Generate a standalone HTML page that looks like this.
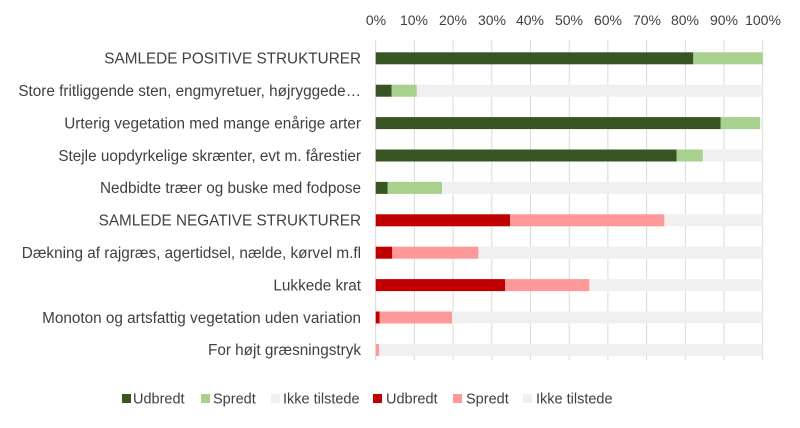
<!DOCTYPE html>
<html><head><meta charset="utf-8"><style>
html,body{margin:0;padding:0;background:#fff;}
svg text{font-family:"Liberation Sans",sans-serif;fill:#404040;}
</style></head><body>
<svg width="800" height="423" xmlns="http://www.w3.org/2000/svg">
<g stroke="#d9d9d9" stroke-width="1">
<line x1="375.7" y1="40" x2="375.7" y2="360"/><line x1="414.4" y1="40" x2="414.4" y2="360"/>
<line x1="453.1" y1="40" x2="453.1" y2="360"/><line x1="491.8" y1="40" x2="491.8" y2="360"/>
<line x1="530.5" y1="40" x2="530.5" y2="360"/><line x1="569.2" y1="40" x2="569.2" y2="360"/>
<line x1="607.9" y1="40" x2="607.9" y2="360"/><line x1="646.6" y1="40" x2="646.6" y2="360"/>
<line x1="685.3" y1="40" x2="685.3" y2="360"/><line x1="724" y1="40" x2="724" y2="360"/>
<line x1="762.7" y1="40" x2="762.7" y2="360"/>
</g>
<g font-size="14" text-anchor="middle">
<text x="376" y="25">0%</text><text x="414" y="25">10%</text><text x="453" y="25">20%</text>
<text x="492" y="25">30%</text><text x="530" y="25">40%</text><text x="569" y="25">50%</text>
<text x="608" y="25">60%</text><text x="647" y="25">70%</text><text x="685" y="25">80%</text>
<text x="724" y="25">90%</text><text x="763" y="25">100%</text>
</g>
<g>
<rect x="375.7" y="52.3" width="317.6" height="12" fill="#375623"/><rect x="693.3" y="52.3" width="69.4" height="12" fill="#a9d18e"/>
<rect x="375.7" y="84.7" width="387" height="12" fill="#f0f0f0"/>
<rect x="375.7" y="84.7" width="16" height="12" fill="#375623"/><rect x="391.7" y="84.7" width="25" height="12" fill="#a9d18e"/>
<rect x="375.7" y="117.1" width="387" height="12" fill="#f0f0f0"/>
<rect x="375.7" y="117.1" width="345" height="12" fill="#375623"/><rect x="720.7" y="117.1" width="39.3" height="12" fill="#a9d18e"/>
<rect x="375.7" y="149.5" width="387" height="12" fill="#f0f0f0"/>
<rect x="375.7" y="149.5" width="301" height="12" fill="#375623"/><rect x="676.7" y="149.5" width="26" height="12" fill="#a9d18e"/>
<rect x="375.7" y="181.9" width="387" height="12" fill="#f0f0f0"/>
<rect x="375.7" y="181.9" width="12" height="12" fill="#375623"/><rect x="387.7" y="181.9" width="54.3" height="12" fill="#a9d18e"/>
<rect x="375.7" y="214.3" width="387" height="12" fill="#f0f0f0"/>
<rect x="375.7" y="214.3" width="134.3" height="12" fill="#c00000"/><rect x="510" y="214.3" width="154.3" height="12" fill="#ff9999"/>
<rect x="375.7" y="246.7" width="387" height="12" fill="#f0f0f0"/>
<rect x="375.7" y="246.7" width="16.6" height="12" fill="#c00000"/><rect x="392.3" y="246.7" width="86" height="12" fill="#ff9999"/>
<rect x="375.7" y="279.1" width="387" height="12" fill="#f0f0f0"/>
<rect x="375.7" y="279.1" width="129.3" height="12" fill="#c00000"/><rect x="505" y="279.1" width="84.3" height="12" fill="#ff9999"/>
<rect x="375.7" y="311.5" width="387" height="12" fill="#f0f0f0"/>
<rect x="375.7" y="311.5" width="4" height="12" fill="#c00000"/><rect x="379.7" y="311.5" width="72.3" height="12" fill="#ff9999"/>
<rect x="375.7" y="343.9" width="387" height="12" fill="#f0f0f0"/>
<rect x="375.7" y="343.9" width="3.3" height="12" fill="#ff9999"/>
</g>
<g font-size="15.3" text-anchor="end">
<text x="361" y="63.5">SAMLEDE POSITIVE STRUKTURER</text>
<text x="361" y="96">Store fritliggende sten, engmyretuer, højryggede…</text>
<text x="361" y="128.5">Urterig vegetation med mange enårige arter</text>
<text x="361" y="161">Stejle uopdyrkelige skrænter, evt m. fårestier</text>
<text x="361" y="193">Nedbidte træer og buske med fodpose</text>
<text x="361" y="225.5">SAMLEDE NEGATIVE STRUKTURER</text>
<text x="361" y="258">Dækning af rajgræs, agertidsel, nælde, kørvel m.fl</text>
<text x="361" y="290.5">Lukkede krat</text>
<text x="361" y="323">Monoton og artsfattig vegetation uden variation</text>
<text x="361" y="355">For højt græsningstryk</text>
</g>
<g font-size="14.5">
<rect x="122" y="394" width="9" height="9" fill="#375623"/><text x="133" y="403.5">Udbredt</text>
<rect x="201" y="394" width="9" height="9" fill="#a9d18e"/><text x="213" y="403.5">Spredt</text>
<rect x="271" y="394" width="9" height="9" fill="#f0f0f0"/><text x="283" y="403.5">Ikke tilstede</text>
<rect x="373" y="394" width="9" height="9" fill="#c00000"/><text x="386" y="403.5">Udbredt</text>
<rect x="453" y="394" width="9" height="9" fill="#ff9999"/><text x="466" y="403.5">Spredt</text>
<rect x="523" y="394" width="9" height="9" fill="#f0f0f0"/><text x="536" y="403.5">Ikke tilstede</text>
</g>
</svg>
</body></html>
